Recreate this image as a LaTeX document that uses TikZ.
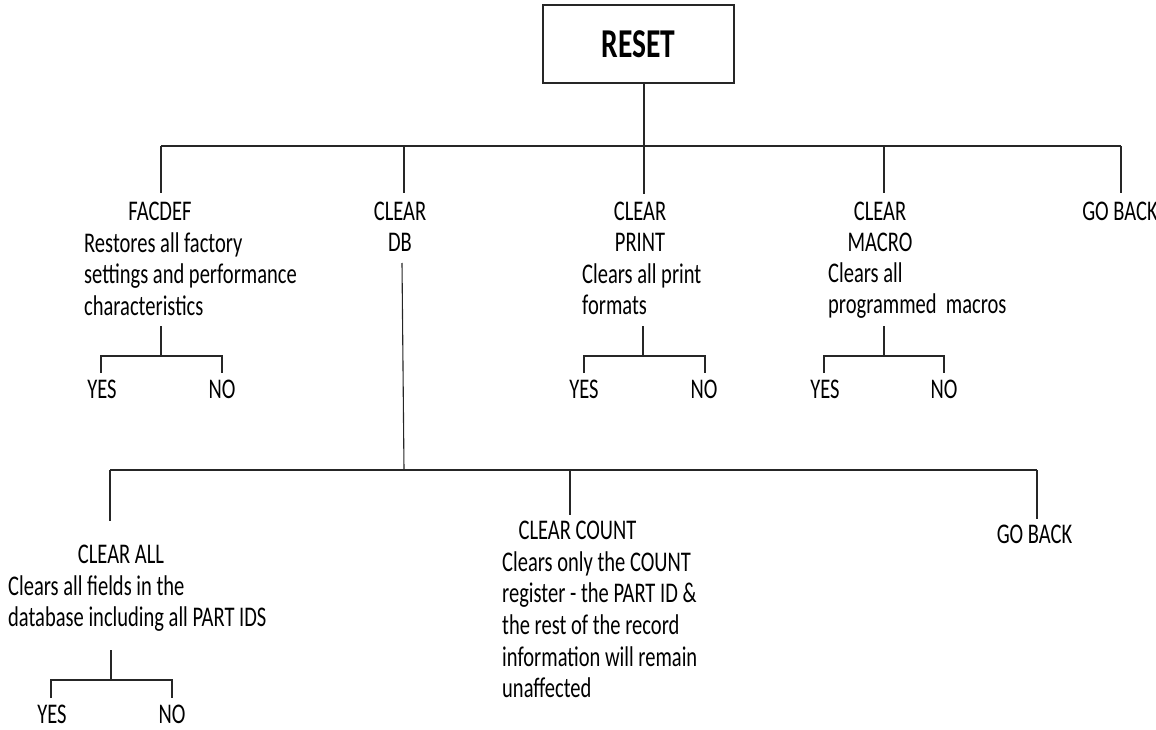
\documentclass[tikz,border=0pt]{standalone}
\usepackage{fontspec}
\setmainfont{Carlito}[FakeStretch=0.72]
\newcommand{\myLstack}[1]{\begin{tabular}[t]{@{}l@{}}#1\end{tabular}}
\newcommand{\myCstack}[1]{\begin{tabular}[t]{@{}c@{}}#1\end{tabular}}
\begin{document}
\begin{tikzpicture}[x=1pt,y=-1pt,
  conn/.style={draw=black!85, line width=1.1pt},
  title/.style={inner sep=0pt, anchor=base, font={\fontsize{28.5}{31.7}\selectfont}},
  desc/.style={inner sep=0pt, anchor=base west, font={\fontsize{28.5}{31.7}\selectfont}},
  rootbox/.style={draw=black!85, line width=1.3pt, minimum width=191pt, minimum height=78pt, inner sep=0pt, font={\fontsize{41}{45}\selectfont\bfseries}},
]
\useasboundingbox (0,0) rectangle (1156,730);

% root
\node[rootbox] (reset) at (638.5,44) {RESET};

% first level junctions
\coordinate (barL) at (161,146);
\coordinate (barR) at (1121,146);
\coordinate (jFac) at (161,146);
\coordinate (jDb) at (404,146);
\coordinate (jPrint) at (644,146);
\coordinate (jMacro) at (884,146);
\coordinate (jBack) at (1121,146);

% first level labels
\node[title] (facdef) at (160,220) {FACDEF};
\node[title] (cleardb) at (400,220) {\myCstack{CLEAR\\DB}};
\node[title] (clearprint) at (640,220) {\myCstack{CLEAR\\PRINT}};
\node[title] (clearmacro) at (880,220) {\myCstack{CLEAR\\MACRO}};
\node[title] (goback) at (1120,220) {GO BACK};

\node[desc] (facdesc) at (84,252) {\myLstack{Restores all factory\\settings and performance\\characteristics}};
\node[desc] (printdesc) at (582,283) {\myLstack{Clears all print\\formats}};
\node[desc] (macrodesc) at (828,282) {\myLstack{Clears all\\programmed\ \ macros}};

% connectors first level
\draw[conn] (reset.south -| jPrint) -- (jPrint);
\draw[conn] (barL) -- (barR);
\draw[conn] (jFac) -- (161,193);
\draw[conn] (jDb) -- (404,193);
\draw[conn] (jPrint) -- (644,194);
\draw[conn] (jMacro) -- (884,193);
\draw[conn] (jBack) -- (1121,193);

% YES/NO under FACDEF
\node[title] (facyes) at (102,398) {YES};
\node[title] (facno) at (222,398) {NO};
\coordinate (facJ) at (161,356);
\draw[conn] (161,326) -- (facJ);
\draw[conn] (101,373) |- (facJ) -| (222,373);

% YES/NO under PRINT
\node[title] (printyes) at (584,398) {YES};
\node[title] (printno) at (704,398) {NO};
\coordinate (printJ) at (643,356);
\draw[conn] (643,326) -- (printJ);
\draw[conn] (584,373) |- (printJ) -| (705,373);

% YES/NO under MACRO
\node[title] (macroyes) at (825,398) {YES};
\node[title] (macrono) at (944,398) {NO};
\coordinate (macroJ) at (884,356);
\draw[conn] (884,326) -- (macroJ);
\draw[conn] (824,373) |- (macroJ) -| (944,373);

% CLEAR DB subtree
\coordinate (dbTop) at (402,263);
\coordinate (dbJ) at (404,470);
\draw[conn] (dbTop) -- (dbJ);
\coordinate (bar2L) at (110,470);
\coordinate (bar2R) at (1037,470);
\draw[conn] (bar2L) -- (bar2R);
\draw[conn] (bar2L) -- (110,521);
\draw[conn] (570,470) -- (570,515);
\draw[conn] (bar2R) -- (1037,519);

\node[title] (clearall) at (121,563) {CLEAR ALL};
\node[desc] (alldesc) at (8,595) {\myLstack{Clears all fields in the\\database including all PART IDS}};
\node[title] (clearcount) at (577.5,539) {CLEAR COUNT};
\node[desc] (countdesc) at (502,571) {\myLstack{Clears only the COUNT\\register - the PART ID \&\\the rest of the record\\information will remain\\unaffected}};
\node[title] (goback2) at (1034.5,543) {GO BACK};

% YES/NO under CLEAR ALL
\node[title] (allyes) at (52,723) {YES};
\node[title] (allno) at (172,723) {NO};
\coordinate (allJ) at (111,680);
\draw[conn] (111,650) -- (allJ);
\draw[conn] (51,698) |- (allJ) -| (172,698);
\end{tikzpicture}
\end{document}
